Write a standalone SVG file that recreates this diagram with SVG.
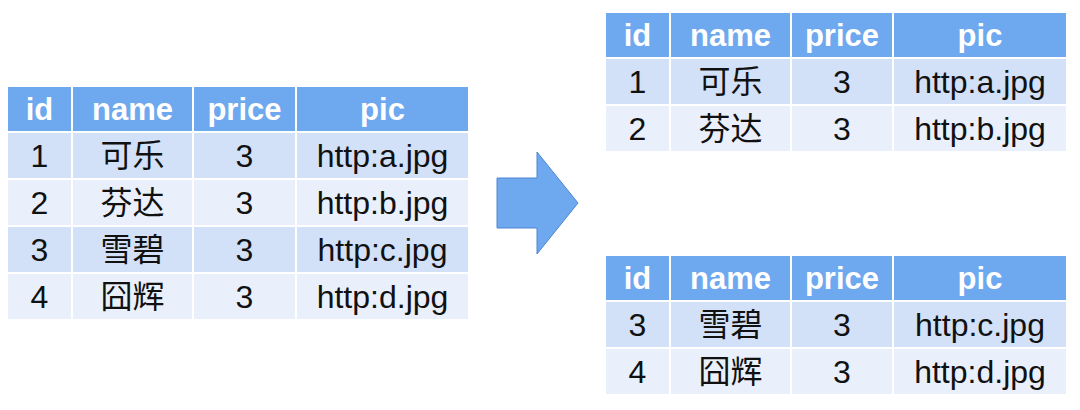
<svg xmlns="http://www.w3.org/2000/svg" width="1080" height="410" viewBox="0 0 1080 410">
<style>
.h{fill:#6ea8ef}.a{fill:#d2e1f8}.b{fill:#e9f0fb}
.ht{font-family:"Liberation Sans",Arial,sans-serif;font-weight:bold;font-size:31px;fill:#fff;text-anchor:middle}
.t{font-family:"Liberation Sans","Noto Sans CJK SC",sans-serif;font-size:32px;fill:#111;text-anchor:middle}
rect{stroke:#fff;stroke-width:2}
</style>
<rect width="1080" height="410" fill="#fff" style="stroke:none"/>
<g id="table-left">
<rect class="h" x="7" y="86" width="65" height="46"/><rect class="h" x="72" y="86" width="121" height="46"/><rect class="h" x="193" y="86" width="103" height="46"/><rect class="h" x="296" y="86" width="173" height="46"/>
<text class="ht" x="39.5" y="120">id</text><text class="ht" x="132.5" y="120">name</text><text class="ht" x="244.5" y="120">price</text><text class="ht" x="382.5" y="120">pic</text>
<rect class="a" x="7" y="132" width="65" height="47"/><rect class="a" x="72" y="132" width="121" height="47"/><rect class="a" x="193" y="132" width="103" height="47"/><rect class="a" x="296" y="132" width="173" height="47"/>
<rect class="b" x="7" y="179" width="65" height="47"/><rect class="b" x="72" y="179" width="121" height="47"/><rect class="b" x="193" y="179" width="103" height="47"/><rect class="b" x="296" y="179" width="173" height="47"/>
<rect class="a" x="7" y="226" width="65" height="47"/><rect class="a" x="72" y="226" width="121" height="47"/><rect class="a" x="193" y="226" width="103" height="47"/><rect class="a" x="296" y="226" width="173" height="47"/>
<rect class="b" x="7" y="273" width="65" height="47"/><rect class="b" x="72" y="273" width="121" height="47"/><rect class="b" x="193" y="273" width="103" height="47"/><rect class="b" x="296" y="273" width="173" height="47"/>
<text class="t" x="39.5" y="167">1</text><text class="t" x="132.5" y="167">可乐</text><text class="t" x="244.5" y="167">3</text><text class="t" x="382.5" y="167">http:a.jpg</text>
<text class="t" x="39.5" y="214">2</text><text class="t" x="132.5" y="214">芬达</text><text class="t" x="244.5" y="214">3</text><text class="t" x="382.5" y="214">http:b.jpg</text>
<text class="t" x="39.5" y="261">3</text><text class="t" x="132.5" y="261">雪碧</text><text class="t" x="244.5" y="261">3</text><text class="t" x="382.5" y="261">http:c.jpg</text>
<text class="t" x="39.5" y="308">4</text><text class="t" x="132.5" y="308">囧辉</text><text class="t" x="244.5" y="308">3</text><text class="t" x="382.5" y="308">http:d.jpg</text>
</g>
<g id="connectors">
<path d="M497,178 H537 V152 L578,203 L537,254 V228 H497 Z" fill="#6ea8ef" stroke="#4e86d2" stroke-width="1"/>
</g>
<g id="table-top">
<rect class="h" x="605" y="12" width="65" height="46"/><rect class="h" x="670" y="12" width="121" height="46"/><rect class="h" x="791" y="12" width="102" height="46"/><rect class="h" x="893" y="12" width="174" height="46"/>
<text class="ht" x="637.5" y="46">id</text><text class="ht" x="730.5" y="46">name</text><text class="ht" x="842" y="46">price</text><text class="ht" x="980" y="46">pic</text>
<rect class="a" x="605" y="58" width="65" height="47"/><rect class="a" x="670" y="58" width="121" height="47"/><rect class="a" x="791" y="58" width="102" height="47"/><rect class="a" x="893" y="58" width="174" height="47"/>
<rect class="b" x="605" y="105" width="65" height="47"/><rect class="b" x="670" y="105" width="121" height="47"/><rect class="b" x="791" y="105" width="102" height="47"/><rect class="b" x="893" y="105" width="174" height="47"/>
<text class="t" x="637.5" y="93">1</text><text class="t" x="730.5" y="93">可乐</text><text class="t" x="842" y="93">3</text><text class="t" x="980" y="93">http:a.jpg</text>
<text class="t" x="637.5" y="140">2</text><text class="t" x="730.5" y="140">芬达</text><text class="t" x="842" y="140">3</text><text class="t" x="980" y="140">http:b.jpg</text>
</g>
<g id="table-bottom">
<rect class="h" x="605" y="255" width="65" height="46"/><rect class="h" x="670" y="255" width="121" height="46"/><rect class="h" x="791" y="255" width="102" height="46"/><rect class="h" x="893" y="255" width="174" height="46"/>
<text class="ht" x="637.5" y="289">id</text><text class="ht" x="730.5" y="289">name</text><text class="ht" x="842" y="289">price</text><text class="ht" x="980" y="289">pic</text>
<rect class="a" x="605" y="301" width="65" height="47"/><rect class="a" x="670" y="301" width="121" height="47"/><rect class="a" x="791" y="301" width="102" height="47"/><rect class="a" x="893" y="301" width="174" height="47"/>
<rect class="b" x="605" y="348" width="65" height="47"/><rect class="b" x="670" y="348" width="121" height="47"/><rect class="b" x="791" y="348" width="102" height="47"/><rect class="b" x="893" y="348" width="174" height="47"/>
<text class="t" x="637.5" y="336">3</text><text class="t" x="730.5" y="336">雪碧</text><text class="t" x="842" y="336">3</text><text class="t" x="980" y="336">http:c.jpg</text>
<text class="t" x="637.5" y="383">4</text><text class="t" x="730.5" y="383">囧辉</text><text class="t" x="842" y="383">3</text><text class="t" x="980" y="383">http:d.jpg</text>
</g>
</svg>
